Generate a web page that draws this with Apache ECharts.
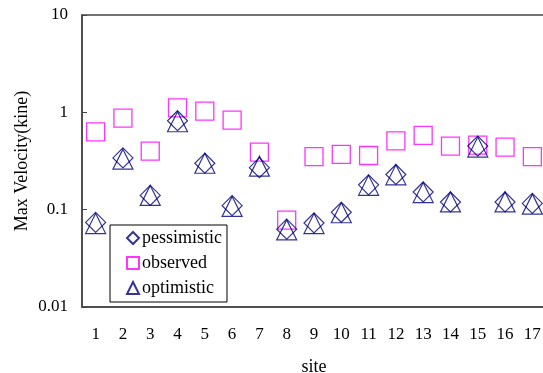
<!DOCTYPE html>
<html>
<head>
<meta charset="utf-8">
<script src="https://cdn.jsdelivr.net/npm/echarts@6/dist/echarts.min.js"></script>
<style>
html, body { margin: 0; padding: 0; background: #fff; }
#chart { width: 543px; height: 373px; }
</style>
</head>
<body>
<div id="chart"></div>
<script>
var sites = ['1','2','3','4','5','6','7','8','9','10','11','12','13','14','15','16','17'];
var pessimistic = [0.074, 0.34, 0.14, 0.82, 0.30, 0.11, 0.27, 0.063, 0.073, 0.094, 0.18, 0.23, 0.152, 0.12, 0.45, 0.12, 0.116];
var observed = [0.63, 0.87, 0.40, 1.11, 1.03, 0.83, 0.39, 0.078, 0.35, 0.37, 0.36, 0.51, 0.58, 0.45, 0.46, 0.44, 0.35];
var optimistic = [0.072, 0.33, 0.14, 0.80, 0.30, 0.108, 0.28, 0.062, 0.072, 0.093, 0.178, 0.228, 0.15, 0.12, 0.44, 0.12, 0.114];
var yTicks = ['0.01', '0.1', '1', '10'];

var font = 'Liberation Serif';
var navy = '#000080';
var magenta = '#ff00ff';

var chart = echarts.init(document.getElementById('chart'));
var option = {
	animation: false,
	textStyle: { fontFamily: font },
	grid: {
		left: 82,
		top: 15,
		width: 464,
		height: 292,
		outerBoundsMode: 'none',
		containLabel: false,
		show: true,
		borderColor: '#444',
		borderWidth: 1.5,
		backgroundColor: 'transparent'
	},
	legend: {
		orient: 'vertical',
		left: 110,
		top: 225,
		padding: [4, 5, 5, 16],
		itemGap: 7,
		itemWidth: 12,
		itemHeight: 12,
		backgroundColor: '#fff',
		borderColor: '#000',
		borderWidth: 1,
		textStyle: { fontFamily: font, fontSize: 18, lineHeight: 18, color: '#000', padding: [0, 0, 0, -2] },
		data: ['pessimistic', 'observed', 'optimistic']
	},
	xAxis: {
		type: 'category',
		data: sites,
		boundaryGap: true,
		name: 'site',
		nameLocation: 'middle',
		nameGap: 51,
		nameMoveOverlap: false,
		nameTextStyle: { fontFamily: font, fontSize: 18, color: '#000' },
		axisLine: { lineStyle: { color: '#444', width: 1.5 } },
		axisTick: { inside: true, length: 5, lineStyle: { color: '#444' } },
		axisLabel: { margin: 19, fontFamily: font, fontSize: 17, color: '#000' },
		splitLine: { show: false }
	},
	yAxis: {
		type: 'log',
		logBase: 10,
		min: 0.01,
		max: 10,
		name: 'Max Velocity(kine)',
		nameLocation: 'middle',
		nameGap: 51,
		nameMoveOverlap: false,
		nameTextStyle: { fontFamily: font, fontSize: 18, color: '#000' },
		axisLine: { show: true, lineStyle: { color: '#444', width: 1.5 } },
		axisTick: { show: true, inside: true, length: 5, lineStyle: { color: '#444' } },
		axisLabel: {
			margin: 14,
			fontFamily: font,
			fontSize: 17,
			color: '#000',
			formatter: function (v) {
				var e = Math.round(Math.log10(v)) + 2;
				return yTicks[e] !== undefined ? yTicks[e] : '';
			}
		},
		splitLine: { show: false }
	},
	series: [{
		name: 'observed',
		type: 'scatter',
		symbol: 'rect',
		symbolSize: 18,
		itemStyle: { color: 'rgba(0,0,0,0)', borderColor: magenta, borderWidth: 1.3 },
		data: observed,
		z: 2
	}, {
		name: 'pessimistic',
		type: 'scatter',
		symbol: 'diamond',
		symbolSize: [20, 20],
		itemStyle: { color: 'rgba(0,0,0,0)', borderColor: navy, borderWidth: 1.2 },
		data: pessimistic,
		z: 3
	}, {
		name: 'optimistic',
		type: 'scatter',
		symbol: 'triangle',
		symbolSize: [20, 20],
		itemStyle: { color: 'rgba(0,0,0,0)', borderColor: navy, borderWidth: 1.2 },
		data: optimistic,
		z: 3
	}]
};
chart.setOption(option);
window.addEventListener('resize', chart.resize);
</script>
</body>
</html>
